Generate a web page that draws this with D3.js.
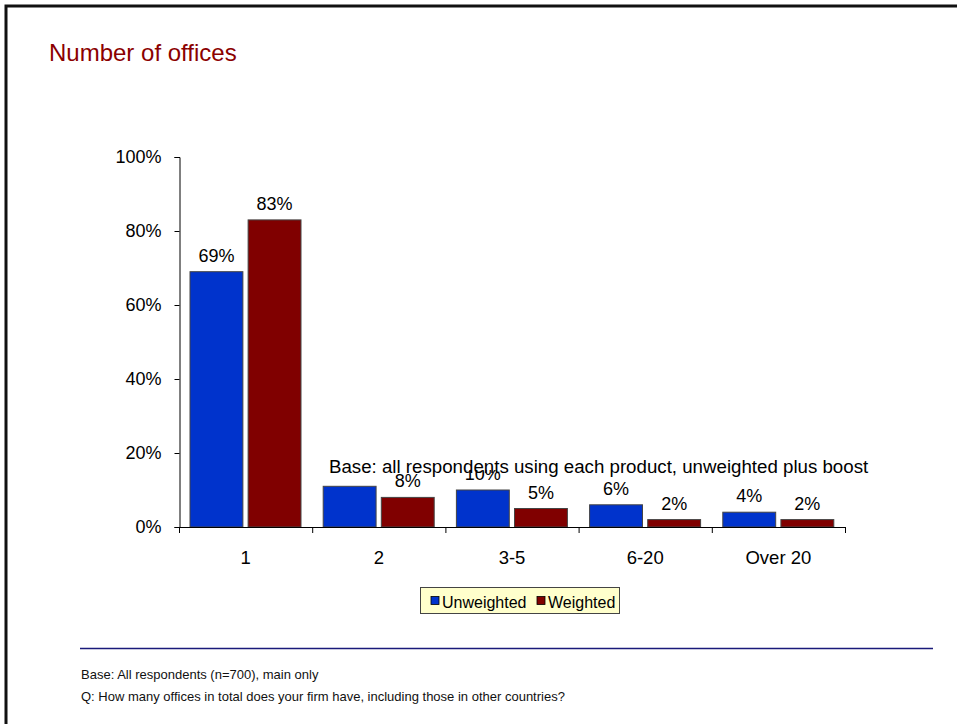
<!DOCTYPE html>
<html>
<head>
<meta charset="utf-8">
<script src="https://cdn.jsdelivr.net/npm/d3@7/dist/d3.min.js"></script>
<style>
  html, body { margin: 0; padding: 0; background: #fff; }
  svg { display: block; font-family: "Liberation Sans", Arial, sans-serif; }
</style>
</head>
<body>
<svg id="chart" width="957" height="724"></svg>
<script>
// Survey results: number of offices per firm
const categories = ["1", "2", "3-5", "6-20", "Over 20"];
const seriesNames = ["Unweighted", "Weighted"];
const unweighted = [69, 11, 10, 6, 4];
const weighted = [83, 8, 5, 2, 2];
// which bars carry a value label (the "2" unweighted bar has none)
const unweightedLabelled = [true, false, true, true, true];
const weightedLabelled = [true, true, true, true, true];
const yTicks = [0, 20, 40, 60, 80, 100];
const seriesColors = ["#0033CC", "#800000"];

const svg = d3.select("#chart");

// Page frame (top and left edges)
svg.append("path")
  .attr("d", "M6,724 V6 H957")
  .attr("fill", "none")
  .attr("stroke", "#111")
  .attr("stroke-width", 3);

// Title
svg.append("text")
  .attr("x", 49).attr("y", 61)
  .attr("font-size", 24)
  .attr("fill", "#8B0000")
  .text("Number of offices");

const x = d3.scaleBand().domain(categories).range([179, 845]);
const xInner = d3.scaleBand().domain(seriesNames).range([11, 122]).paddingInner(0.09);
const y = d3.scaleLinear().domain([0, 100]).range([527, 157]);

// Y axis
const yAxis = svg.append("g")
  .attr("transform", "translate(179.5,0)")
  .call(d3.axisLeft(y).tickValues(yTicks).tickSize(5).tickPadding(13).tickFormat(d => d + "%"));
yAxis.select(".domain").attr("stroke", "#000");
yAxis.selectAll(".tick line").attr("stroke", "#000");
yAxis.selectAll(".tick text").attr("font-size", 18).attr("fill", "#000")
  .attr("font-family", "Liberation Sans, Arial, sans-serif");

// Bars
const rows = categories.map((c, i) => ({
  cat: c,
  vals: [
    { name: seriesNames[0], v: unweighted[i], j: 0, labelled: unweightedLabelled[i] },
    { name: seriesNames[1], v: weighted[i], j: 1, labelled: weightedLabelled[i] }
  ]
}));
const groups = svg.append("g").selectAll("g")
  .data(rows).join("g")
  .attr("transform", d => `translate(${x(d.cat)},0)`);

groups.selectAll("rect")
  .data(d => d.vals)
  .join("rect")
  .attr("x", d => xInner(d.name))
  .attr("width", xInner.bandwidth())
  .attr("y", d => y(d.v))
  .attr("height", d => y(0) - y(d.v))
  .attr("fill", d => seriesColors[d.j])
  .attr("stroke", "#444")
  .attr("stroke-width", 1);

// Value labels
groups.selectAll("text.val")
  .data(d => d.vals.filter(v => v.labelled))
  .join("text")
  .attr("class", "val")
  .attr("x", d => xInner(d.name) + xInner.bandwidth() / 2)
  .attr("y", d => y(d.v) - 10)
  .attr("text-anchor", "middle")
  .attr("font-size", 18)
  .attr("fill", "#000")
  .text(d => d.v + "%");

// X axis
const xAxisG = svg.append("g");
xAxisG.append("line")
  .attr("x1", 179).attr("x2", 845)
  .attr("y1", 527.5).attr("y2", 527.5)
  .attr("stroke", "#000");
const boundaries = categories.map(c => x(c)).concat([x.range()[1]]);
xAxisG.selectAll("line.tick")
  .data(boundaries).join("line")
  .attr("class", "tick")
  .attr("x1", d => d + 0.5).attr("x2", d => d + 0.5)
  .attr("y1", 527).attr("y2", 533)
  .attr("stroke", "#000");
xAxisG.selectAll("text")
  .data(categories).join("text")
  .attr("x", d => x(d) + x.bandwidth() / 2)
  .attr("y", 564)
  .attr("text-anchor", "middle")
  .attr("font-size", 18.5)
  .attr("fill", "#000")
  .text(d => d);

// Base note inside the plot area, on a white box
const note = svg.append("g");
note.append("rect")
  .attr("x", 326).attr("y", 455).attr("width", 548).attr("height", 15)
  .attr("fill", "#fff");
note.append("text")
  .attr("x", 329).attr("y", 473)
  .attr("font-size", 18.7)
  .attr("fill", "#000")
  .text("Base: all respondents using each product, unweighted plus boost");

// Legend
const legend = svg.append("g").attr("transform", "translate(420.5,587.5)");
legend.append("rect")
  .attr("width", 199).attr("height", 26)
  .attr("fill", "#FFFFCC")
  .attr("stroke", "#444");
const legendX = [10.5, 116.5];
const items = legend.selectAll("g.item")
  .data(seriesNames).join("g")
  .attr("class", "item")
  .attr("transform", (d, i) => `translate(${legendX[i]},0)`);
items.append("rect")
  .attr("x", 0).attr("y", 9).attr("width", 8).attr("height", 8)
  .attr("fill", (d, i) => seriesColors[i])
  .attr("stroke", "#000").attr("stroke-width", 0.8);
items.append("text")
  .attr("x", 11).attr("y", 20)
  .attr("font-size", 16)
  .attr("fill", "#000")
  .text(d => d);

// Footer rule and notes
svg.append("line")
  .attr("x1", 80).attr("x2", 933)
  .attr("y1", 648.5).attr("y2", 648.5)
  .attr("stroke", "#1a1a7a")
  .attr("stroke-width", 1.3);
svg.append("text")
  .attr("x", 81).attr("y", 679)
  .attr("font-size", 13)
  .attr("fill", "#111")
  .text("Base: All respondents (n=700), main only");
svg.append("text")
  .attr("x", 81).attr("y", 701)
  .attr("font-size", 13)
  .attr("fill", "#111")
  .text("Q: How many offices in total does your firm have, including those in other countries?");
</script>
</body>
</html>
